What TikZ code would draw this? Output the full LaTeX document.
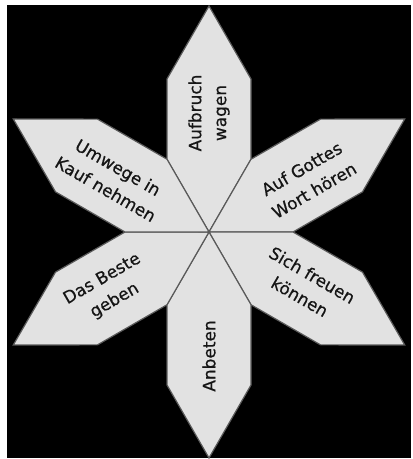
\documentclass[tikz,border=0pt]{standalone}
\usepackage{fontspec}
\setmainfont{DejaVu Sans}
\newfontfamily\petalfont{DejaVu Sans}[FakeBold=0.6]
\usepackage{xcolor}
\definecolor{cBack}{HTML}{000000}
\definecolor{cPetal}{HTML}{E2E2E2}
\definecolor{cLine}{HTML}{5A5A5A}
\definecolor{cText}{HTML}{151515}
\usepackage{tikz}
\tikzset{
  petal/.style={fill=cPetal,draw=cLine,line width=1.2bp,line join=miter},
  petal-text/.style={align=center,inner sep=0pt,text=cText,
    font=\petalfont\fontsize{17}{25}\selectfont},
}

\begin{document}
\begin{tikzpicture}[x=1bp,y=1bp]
  \useasboundingbox (-209,-227) rectangle (203,232);
  \fill[cBack] (-202,-226) rectangle (202,227);
  % sechs Blaetter um die Mitte
  \foreach \a in {90,30,-30,-90,-150,150}
    \draw[petal,rotate=\a] (0,0) -- (72.7,42) -- (153,42) -- (226,0)
      -- (153,-42) -- (72.7,-42) -- cycle;
  \node[petal-text,rotate=90]  (aufbruch) at (90:119)   {Aufbruch\\wagen};
  \node[petal-text,rotate=30]  (gottes)   at (28:112)   {Auf Gottes\\Wort hören};
  \node[petal-text,rotate=-30] (freuen)   at (-29:111)  {Sich freuen\\können};
  \node[petal-text,rotate=90]  (anbeten)  at (-90:124)  {Anbeten};
  \node[petal-text,rotate=30]  (beste)    at (-150:116) {Das Beste\\geben};
  \node[petal-text,rotate=-30] (umwege)   at (151:111)  {Umwege in\\Kauf nehmen};
\end{tikzpicture}
\end{document}
